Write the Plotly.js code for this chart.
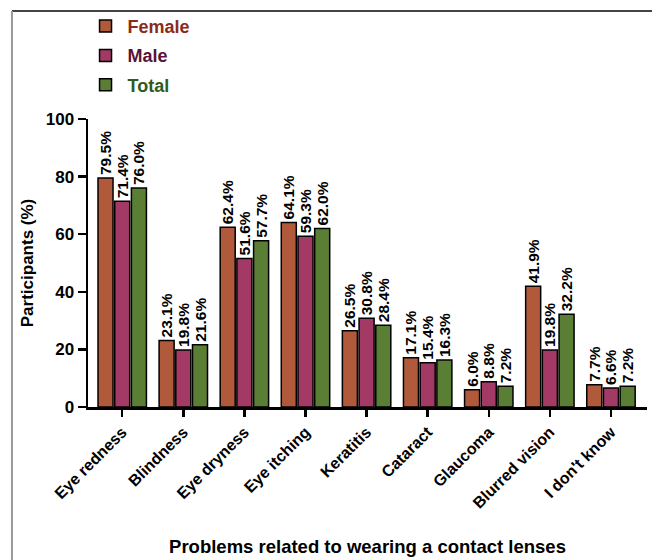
<!DOCTYPE html>
<html>
<head>
<meta charset="utf-8">
<script src="https://cdn.plot.ly/plotly-3.0.1.min.js"></script>
<style>html,body{margin:0;padding:0;background:#fff;}#chart{width:652px;height:560px;}</style>
</head>
<body>
<div id="chart"></div>
<script>
const categories = ["Eye redness", "Blindness", "Eye dryness", "Eye itching", "Keratitis", "Cataract", "Glaucoma", "Blurred vision", "I don't know"];
const female = [79.5, 23.1, 62.4, 64.1, 26.5, 17.1, 6.0, 41.9, 7.7];
const male = [71.4, 19.8, 51.6, 59.3, 30.8, 15.4, 8.8, 19.8, 6.6];
const total = [76.0, 21.6, 57.7, 62.0, 28.4, 16.3, 7.2, 32.2, 7.2];
const seriesNames = ["Female", "Male", "Total"];
const yTicks = [0, 20, 40, 60, 80, 100];

const FONT = "Liberation Sans, Arial, sans-serif";
const fills = ["#B0593B", "#A33A66", "#5B7E35"];
const nameColors = ["#8A2B1A", "#5A1238", "#2F5A20"];
const seriesData = [female, male, total];

const traces = seriesData.map((vals, i) => ({
  type: "bar",
  x: categories,
  y: vals,
  name: '<span style="color:' + nameColors[i] + '">' + seriesNames[i] + '</span>',
  legendgroup: "g" + i,
  marker: {color: fills[i], line: {color: "#000", width: 1.5}},
  texttemplate: "%{y:.1f}%",
  textposition: "outside",
  textangle: -90,
  constraintext: "none",
  cliponaxis: false,
  textfont: {family: FONT, size: 15.5, color: "#000", weight: "bold"},
  hoverinfo: "skip"
}));

const layout = {
  width: 652, height: 560,
  margin: {l: 88, r: 5, t: 119, b: 153},
  paper_bgcolor: "#fff", plot_bgcolor: "#fff",
  barmode: "group",
  bargap: 0.18,
  bargroupgap: 0.1,
  font: {family: FONT, color: "#000"},
  showlegend: true,
  legend: {
    x: -0.008, xanchor: "left", y: 1.386, yanchor: "top",
    traceorder: "grouped", tracegroupgap: 3,
    itemwidth: 34,
    font: {family: FONT, size: 18, weight: "bold"},
    bgcolor: "rgba(0,0,0,0)"
  },
  xaxis: {
    range: [-0.56, 8.59],
    showline: true, linecolor: "#000", linewidth: 2.5,
    ticks: "outside", ticklen: 7, tickwidth: 2.5, tickcolor: "#000",
    tickangle: -45,
    tickfont: {family: FONT, size: 16, weight: "bold"},
    showgrid: false, zeroline: false,
    title: {text: "Problems related to wearing a contact lenses", font: {family: FONT, size: 18.5, weight: "bold"}, standoff: 30}
  },
  yaxis: {
    range: [0, 100],
    tickvals: yTicks,
    showline: true, linecolor: "#000", linewidth: 2.5,
    ticks: "outside", ticklen: 8, tickwidth: 2.5, tickcolor: "#000",
    tickfont: {family: FONT, size: 17, weight: "bold"},
    showgrid: false, zeroline: false,
    title: {text: "Participants (%)", font: {family: FONT, size: 17, weight: "bold"}, standoff: 8}
  },
  shapes: [
    {type: "line", xref: "paper", yref: "paper", x0: -0.136, x1: 1.02, y0: 1.375, y1: 1.375, line: {color: "#444", width: 2}},
    {type: "line", xref: "paper", yref: "paper", x0: -0.136, x1: -0.136, y0: 1.375, y1: -0.6, line: {color: "#999", width: 2}}
  ]
};

Plotly.newPlot("chart", traces, layout, {displayModeBar: false, staticPlot: true});
</script>
</body>
</html>
